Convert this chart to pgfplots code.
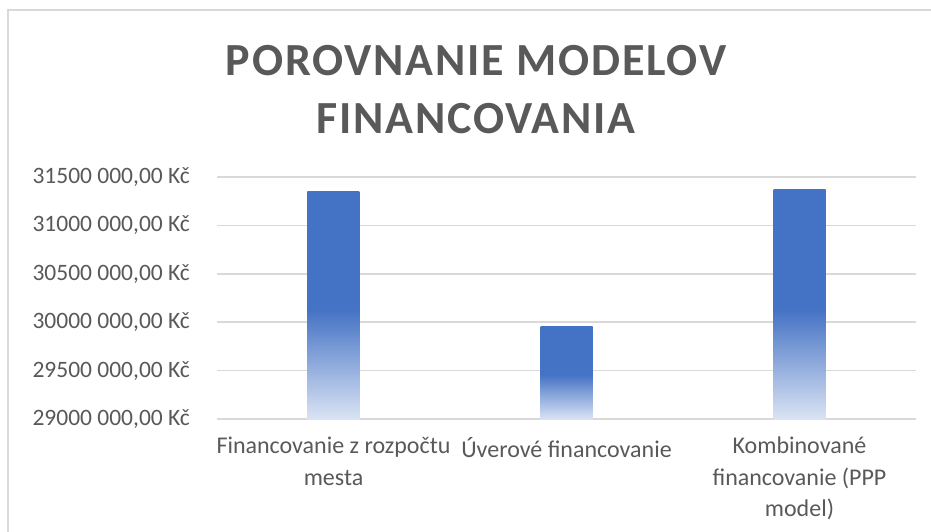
\documentclass[border=0pt]{standalone}
\usepackage{pgfplots}
\pgfplotsset{compat=1.18}
\usepackage{fontspec}
\setmainfont{Carlito}
\newfontfamily\titlefont[LetterSpace=4.0]{Carlito}
\definecolor{barblue}{RGB}{68,114,196}
\definecolor{barlight}{RGB}{218,227,244}
\definecolor{txtgray}{RGB}{89,89,89}
\definecolor{gridgray}{RGB}{217,217,217}
\pgfdeclareverticalshading{barshade}{100bp}{color(0bp)=(barlight); color(25bp)=(barlight); color(49bp)=(barblue); color(100bp)=(barblue)}
\pgfplotsset{mybar/.style={ybar, bar width=52pt, bar shift=0pt, draw=none, shading=barshade, mark=none}}
\begin{document}
\begin{tikzpicture}
\useasboundingbox (-217pt,-113pt) rectangle (714pt,419pt);
\draw[gridgray, line width=1.5pt] (-209pt,-113pt) -- (-209pt,409pt) -- (714pt,409pt);
\begin{axis}[
  at={(0pt,0pt)}, anchor=south west,
  scale only axis, width=699pt, height=242pt,
  xmin=-0.5, xmax=2.5,
  ymin=29000000, ymax=31500000,
  scaled y ticks=false,
  xtick={0,1,2},
  xticklabels={{Financovanie z rozpočtu\\mesta},{Úverové financovanie},{Kombinované\\financovanie (PPP\\model)}},
  ytick={29000000,29500000,30000000,30500000,31000000,31500000},
  yticklabels={{29000 000,00 Kč},{29500 000,00 Kč},{30000 000,00 Kč},{30500 000,00 Kč},{31000 000,00 Kč},{31500 000,00 Kč}},
  axis line style={draw=none},
  major tick length=0pt,
  ymajorgrids,
  grid style={gridgray, line width=1.5pt},
  yticklabel style={font=\fontsize{23.5}{27}\selectfont, text=txtgray, inner sep=0pt, xshift=-27pt},
  xticklabel style={font=\fontsize{24}{31.5}\selectfont, text=txtgray, align=center, inner sep=0pt, yshift=-18pt},
  clip=false,
]
\addplot[mybar] coordinates {(0,31355000)};
\addplot[mybar] coordinates {(1,29960000)};
\addplot[mybar] coordinates {(2,31366000)};
\end{axis}
\node[font=\fontsize{46}{50}\selectfont\titlefont\bfseries, text=txtgray] at (259pt,358pt) {POROVNANIE MODELOV};
\node[font=\fontsize{46}{50}\selectfont\titlefont\bfseries, text=txtgray] at (259pt,300pt) {FINANCOVANIA};
\end{tikzpicture}
\end{document}
